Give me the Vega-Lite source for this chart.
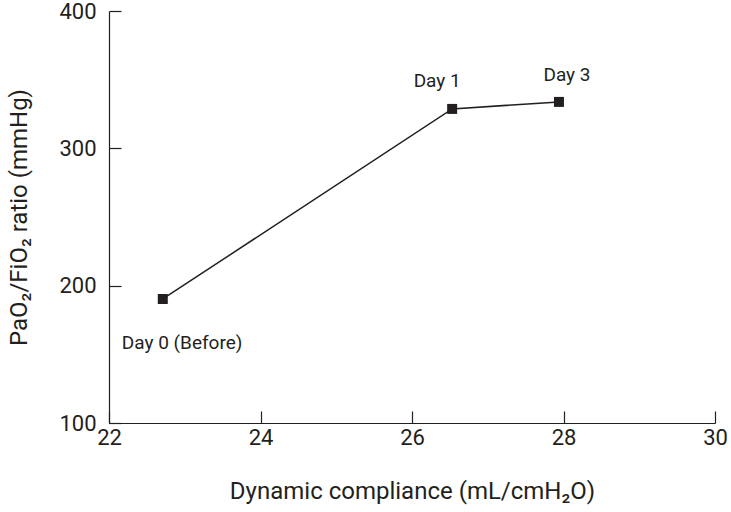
{
  "$schema": "https://vega.github.io/schema/vega-lite/v6.json",
  "width": 606,
  "height": 412,
  "autosize": "none",
  "padding": {"left": 109, "top": 11, "right": 16, "bottom": 89},
  "background": "white",
  "config": {
    "view": {"stroke": null},
    "font": "Roboto",
    "axis": {
      "domainColor": "#231f20",
      "tickColor": "#231f20",
      "labelColor": "#231f20",
      "titleColor": "#231f20",
      "labelFont": "Roboto",
      "titleFont": "Roboto",
      "labelFontSize": 22,
      "titleFontSize": 24,
      "titleFontWeight": "normal",
      "grid": false,
      "tickSize": -12,
      "domainWidth": 1.2,
      "tickWidth": 1.2
    }
  },
  "data": {
    "values": [
      {"compliance": 22.71, "ratio": 190.3, "label": "Day 0 (Before)"},
      {"compliance": 26.53, "ratio": 328.7, "label": "Day 1"},
      {"compliance": 27.94, "ratio": 333.8, "label": "Day 3"}
    ]
  },
  "encoding": {
    "x": {
      "field": "compliance",
      "type": "quantitative",
      "scale": {"domain": [22, 30], "nice": false, "zero": false},
      "axis": {"values": [22, 24, 26, 28, 30], "title": "Dynamic compliance (mL/cmH₂O)", "labelPadding": 16, "titlePadding": 31, "labelFlush": false}
    },
    "y": {
      "field": "ratio",
      "type": "quantitative",
      "scale": {"domain": [100, 400], "nice": false, "zero": false},
      "axis": {"values": [100, 200, 300, 400], "title": "PaO₂/FiO₂ ratio (mmHg)", "labelPadding": 25, "titlePadding": 27, "labelFlush": false}
    }
  },
  "layer": [
    {"mark": {"type": "line", "color": "#231f20", "strokeWidth": 1.5}},
    {"mark": {"type": "point", "shape": "square", "filled": true, "size": 100, "color": "#231f20", "opacity": 1}},
    {
      "transform": [{"filter": "datum.label === 'Day 0 (Before)'"}],
      "mark": {"type": "text", "align": "left", "baseline": "middle", "dx": -41, "dy": 44, "fontSize": 19, "color": "#231f20"},
      "encoding": {"text": {"field": "label"}}
    },
    {
      "transform": [{"filter": "datum.label === 'Day 1'"}],
      "mark": {"type": "text", "align": "center", "baseline": "middle", "dx": -15, "dy": -28, "fontSize": 19, "color": "#231f20"},
      "encoding": {"text": {"field": "label"}}
    },
    {
      "transform": [{"filter": "datum.label === 'Day 3'"}],
      "mark": {"type": "text", "align": "center", "baseline": "middle", "dx": 8, "dy": -27, "fontSize": 19, "color": "#231f20"},
      "encoding": {"text": {"field": "label"}}
    }
  ]
}
